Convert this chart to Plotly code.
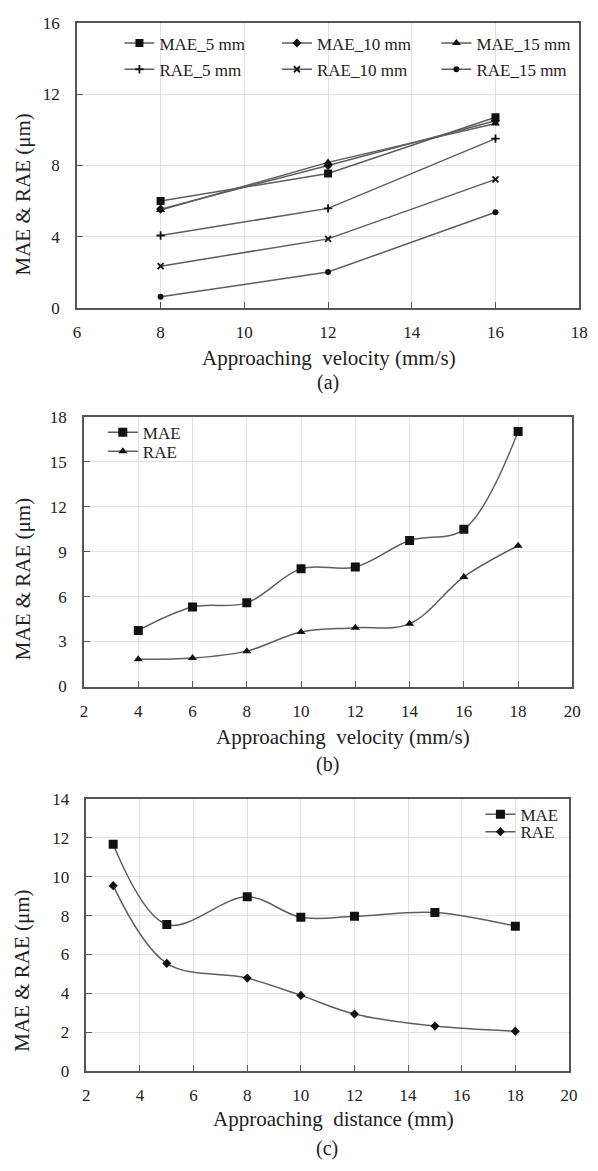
import plotly.graph_objects as go

W, H = 598, 1171

# ---------------- data ----------------
# (a)
vel_a = [8, 12, 16]
mae_5 = [6.0, 7.55, 10.7]
mae_10 = [5.55, 8.0, 10.5]
mae_15 = [5.5, 8.17, 10.35]
rae_5 = [4.07, 5.59, 9.5]
rae_10 = [2.35, 3.88, 7.22]
rae_15 = [0.64, 2.02, 5.37]
names_a = ["MAE_5 mm", "MAE_10 mm", "MAE_15 mm", "RAE_5 mm", "RAE_10 mm", "RAE_15 mm"]

# (b)
vel_b = [4, 6, 8, 10, 12, 14, 16, 18]
mae_b = [3.74, 5.30, 5.58, 7.86, 7.97, 9.74, 10.48, 17.0]
rae_b = [1.82, 1.90, 2.36, 3.63, 3.92, 4.18, 7.31, 9.39]

# (c)
dist_c = [3, 5, 8, 10, 12, 15, 18]
mae_c = [11.67, 7.54, 8.97, 7.91, 7.96, 8.16, 7.45]
rae_c = [9.54, 5.54, 4.78, 3.89, 2.93, 2.31, 2.05]

FONT = "Liberation Serif"
LINE = "#5e5e5e"
MK = "#111111"


def px(x):
    return x / W


def py(y):
    return 1 - y / H


fig = go.Figure()

# ---- traces (a)
series_a = [mae_5, mae_10, mae_15, rae_5, rae_10, rae_15]
symbols_a = ["square", "diamond", "triangle-up", "cross-thin", "x-thin", "circle"]
sizes_a = [8, 7, 8, 6, 6, 6]
for i, (nm, ys, sym, sz) in enumerate(zip(names_a, series_a, symbols_a, sizes_a)):
    lg = "legend" if i == 0 else f"legend{i + 1}"
    fig.add_trace(go.Scatter(
        x=vel_a, y=ys, name=nm, mode="lines+markers",
        line=dict(color=LINE, width=1.5),
        marker=dict(symbol=sym, size=sz, color=MK,
                    line=dict(color=MK, width=1.8 if "thin" in sym else 0)),
        xaxis="x", yaxis="y", legend=lg))

# ---- traces (b)
fig.add_trace(go.Scatter(
    x=vel_b, y=mae_b, name="MAE", mode="lines+markers",
    line=dict(color=LINE, width=1.5, shape="spline"),
    marker=dict(symbol="square", size=9, color=MK),
    xaxis="x2", yaxis="y2", legend="legend7"))
fig.add_trace(go.Scatter(
    x=vel_b, y=rae_b, name="RAE", mode="lines+markers",
    line=dict(color=LINE, width=1.5, shape="spline"),
    marker=dict(symbol="triangle-up", size=8, color=MK),
    xaxis="x2", yaxis="y2", legend="legend8"))

# ---- traces (c)
fig.add_trace(go.Scatter(
    x=dist_c, y=mae_c, name="MAE", mode="lines+markers",
    line=dict(color=LINE, width=1.5, shape="spline"),
    marker=dict(symbol="square", size=9, color=MK),
    xaxis="x3", yaxis="y3", legend="legend9"))
fig.add_trace(go.Scatter(
    x=dist_c, y=rae_c, name="RAE", mode="lines+markers",
    line=dict(color=LINE, width=1.5, shape="spline"),
    marker=dict(symbol="diamond", size=7, color=MK),
    xaxis="x3", yaxis="y3", legend="legend10"))

axis_common = dict(
    showline=True, mirror=True, linecolor="#555555", linewidth=1.5,
    showgrid=True, gridcolor="#e2e2e2", gridwidth=1,
    ticks="inside", ticklen=6, tickcolor="#555555", tickwidth=1,
    zeroline=False, tickfont=dict(family=FONT, size=17, color="#222222"),
)

layout = dict(
    width=W, height=H, margin=dict(l=0, r=0, t=0, b=0),
    paper_bgcolor="white", plot_bgcolor="white",
    font=dict(family=FONT, size=17, color="#222222"),
    xaxis=dict(domain=[px(74.5), px(588)], range=[6, 18], dtick=2, anchor="y",
               ticklabelstandoff=8, **axis_common),
    yaxis=dict(domain=[py(304), py(14)], range=[0, 16], dtick=4, anchor="x",
               ticklabelstandoff=12, **axis_common),
    xaxis2=dict(domain=[px(81.8), px(581)], range=[2, 20], dtick=2, anchor="y2",
                ticklabelstandoff=8, **axis_common),
    yaxis2=dict(domain=[py(688.7), py(414.3)], range=[0, 18], dtick=3, anchor="x2",
                ticklabelstandoff=12, **axis_common),
    xaxis3=dict(domain=[px(84.2), px(577.5)], range=[2, 20], dtick=2, anchor="y3",
                ticklabelstandoff=8, **axis_common),
    yaxis3=dict(domain=[py(1079.5), py(803)], range=[0, 14], dtick=2, anchor="x3",
                ticklabelstandoff=12, **axis_common),
    showlegend=True,
)

# legends: one per entry for exact placement (left px, centre y px)
leg_pos = [(118, 35), (279, 35), (442, 35), (118, 61.7), (279, 61.7), (442, 61.7),
           (101, 430.7), (101, 450), (487, 819), (487, 836.7)]
for i, (lx, ly) in enumerate(leg_pos):
    key = "legend" if i == 0 else f"legend{i + 1}"
    layout[key] = dict(x=px(lx), y=py(ly), xanchor="left", yanchor="middle",
                       bgcolor="rgba(0,0,0,0)", borderwidth=0,
                       font=dict(family=FONT, size=17, color="#222222"))

fig.update_layout(**layout)

# axis titles and captions as annotations
ann = []


def add_text(text, x, y, size, angle=0):
    ann.append(dict(text=text, x=px(x), y=py(y), xref="paper", yref="paper",
                    showarrow=False, xanchor="center", yanchor="middle",
                    textangle=angle, font=dict(family=FONT, size=size, color="#222222")))


add_text("Approaching  velocity (mm/s)", 332, 355, 21)
add_text("Approaching  velocity (mm/s)", 347, 740, 21)
add_text("Approaching  distance (mm)", 337, 1128, 21)
add_text("MAE &amp; RAE (μm)", 19, 189, 21, -90)
add_text("MAE &amp; RAE (μm)", 19, 580, 21, -90)
add_text("MAE &amp; RAE (μm)", 19, 978, 21, -90)
add_text("(a)", 331, 380, 20)
add_text("(b)", 331, 768, 20)
add_text("(c)", 330, 1158, 20)
fig.update_layout(annotations=ann)

fig.write_html("out.html")
